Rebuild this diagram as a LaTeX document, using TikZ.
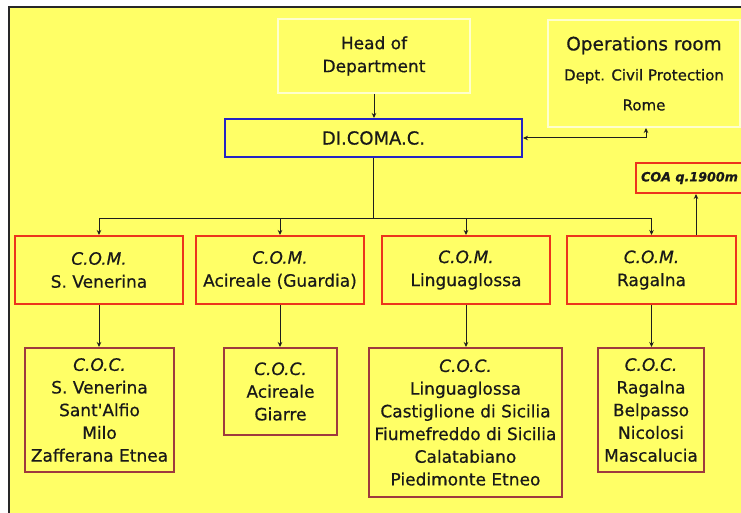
\documentclass[tikz,border=0pt]{standalone}
\usepackage{fontspec}
\setmainfont{DejaVu Sans}[FakeBold=0.6]
\usetikzlibrary{arrows.meta,calc}

\definecolor{bgyellow}{RGB}{255,255,102}
\definecolor{frameline}{RGB}{40,40,40}
\definecolor{paleline}{RGB}{255,255,205}
\definecolor{comred}{RGB}{236,52,28}
\definecolor{cocred}{RGB}{158,58,62}
\definecolor{hqblue}{RGB}{36,36,196}
\definecolor{wire}{RGB}{30,30,30}
\definecolor{ink}{RGB}{25,25,25}

\tikzset{
  box/.style={rectangle, inner sep=0pt, align=center, line width=2pt, text=ink,
              font=\fontsize{17}{23}\selectfont},
  palebox/.style={box, draw=paleline},
  hqbox/.style={box, draw=hqblue, font=\fontsize{18}{23}\selectfont},
  combox/.style={box, draw=comred, minimum height=68pt},
  cocbox/.style={box, draw=cocred, font=\fontsize{17}{22.7}\selectfont},
  coabox/.style={box, draw=comred, font=\bfseries\itshape\fontsize{12.7}{15}\selectfont},
  wirel/.style={draw=wire, line width=1pt},
  arr/.style={wirel, -{Stealth[length=5pt,width=4.5pt]}},
  dblarr/.style={wirel, {Stealth[length=5pt,width=4.5pt]}-{Stealth[length=5pt,width=4.5pt]}}
}

\begin{document}
\begin{tikzpicture}[x=1pt,y=-1pt]
  % page and framed yellow panel
  \useasboundingbox (0,0) rectangle (741,513);
  \fill[white] (0,0) rectangle (741,513);
  \fill[bgyellow] (9,7) rectangle (745,517);
  \draw[frameline, line width=2pt] (9,517) -- (9,7) -- (745,7);

  % top level
  \node[palebox, minimum width=192pt, minimum height=74pt] (head) at (374,56)
    {Head of\\Department};
  \node[palebox, minimum width=192pt, minimum height=107pt,
        font=\fontsize{15}{30}\selectfont] (ops) at (644,73.5)
    {{\fontsize{18.5}{30}\selectfont Operations room}\\Dept. Civil Protection\\Rome};
  \node[hqbox, minimum width=297pt, minimum height=38pt] (dicomac) at (373.5,138)
    {DI.COMA.C.};
  \node[coabox, minimum width=107pt, minimum height=30pt] (coa) at (689.5,178)
    {COA q.1900m};

  % C.O.M. level
  \node[combox, minimum width=168pt] (com1) at (99,270)
    {\itshape C.O.M.\\S. Venerina};
  \node[combox, minimum width=168pt] (com2) at (280,270)
    {\itshape C.O.M.\\Acireale (Guardia)};
  \node[combox, minimum width=168pt] (com3) at (466,270)
    {\itshape C.O.M.\\Linguaglossa};
  \node[combox, minimum width=169pt] (com4) at (651.5,270)
    {\itshape C.O.M.\\Ragalna};

  % C.O.C. level
  \node[cocbox, minimum width=149pt, minimum height=124pt] (coc1) at (99.5,410)
    {\itshape C.O.C.\\S. Venerina\\Sant\textquotesingle Alfio\\Milo\\Zafferana Etnea};
  \node[cocbox, minimum width=113pt, minimum height=87pt] (coc2) at (280.5,391.5)
    {\itshape C.O.C.\\Acireale\\Giarre};
  \node[cocbox, minimum width=193pt, minimum height=149pt] (coc3) at (465.5,422.5)
    {\itshape C.O.C.\\Linguaglossa\\Castiglione di Sicilia\\Fiumefreddo di Sicilia\\Calatabiano\\Piedimonte Etneo};
  \node[cocbox, minimum width=106pt, minimum height=124pt] (coc4) at (651,410)
    {\itshape C.O.C.\\Ragalna\\Belpasso\\Nicolosi\\Mascalucia};

  % connectors
  \draw[arr] (head.south) -- (head.south |- dicomac.north);
  \draw[dblarr] (dicomac.east) -| ([xshift=2pt]ops.south);

  \coordinate (hub) at (dicomac.south |- 0,218);
  \draw[wirel] (dicomac.south) -- (hub);
  \draw[arr] (hub) -| (com1.north);
  \draw[arr] (hub) -| (com2.north);
  \draw[arr] (hub) -| (com3.north);
  \draw[arr] (hub) -| (com4.north);

  \draw[arr] ([xshift=6.5pt]coa.south |- com4.north) -- ([xshift=6.5pt]coa.south);

  \draw[arr] (com1.south) -- (com1.south |- coc1.north);
  \draw[arr] (com2.south) -- (com2.south |- coc2.north);
  \draw[arr] (com3.south) -- (com3.south |- coc3.north);
  \draw[arr] (com4.south) -- (com4.south |- coc4.north);
\end{tikzpicture}
\end{document}
